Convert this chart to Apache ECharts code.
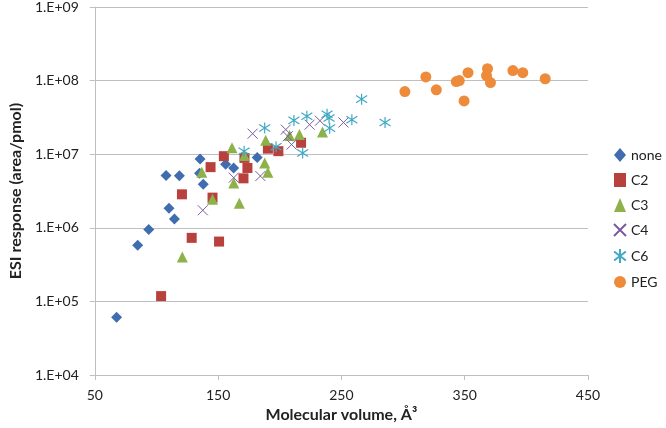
<!DOCTYPE html>
<html>
<head>
<meta charset="utf-8">
<script src="https://cdn.jsdelivr.net/npm/echarts@6/dist/echarts.min.js"></script>
<style>
html,body{margin:0;padding:0;background:#fff;}
#chart{width:666px;height:428px;}
</style>
</head>
<body>
<div id="chart"></div>
<script>
// Data (molecular volume, ESI response)
const seriesNames = ['none', 'C2', 'C3', 'C4', 'C6', 'PEG'];
const noneData = [[67.7,6.1e4],[84.8,5.8e5],[93.8,9.5e5],[110.2,1.84e6],[114.6,1.32e6],[107.8,5.15e6],[118.6,5.1e6],[135.4,8.6e6],[135.0,5.5e6],[138.0,3.9e6],[156.1,7.3e6],[162.6,6.5e6],[181.7,9.0e6]];
const c2Data = [[103.8,1.18e5],[120.7,2.85e6],[128.6,7.3e5],[143.9,6.67e6],[145.5,2.57e6],[150.8,6.5e5],[154.7,9.4e6],[173.8,6.5e6],[170.6,4.7e6],[171.4,8.9e6],[190.4,1.19e7],[198.9,1.1e7],[217.3,1.43e7]];
const c3Data = [[121.0,4.0e5],[136.8,5.7e6],[145.5,2.45e6],[167.2,2.16e6],[162.7,4.05e6],[161.3,1.22e7],[171.4,9.6e6],[188.6,1.55e7],[187.8,7.6e6],[190.4,5.7e6],[208.0,1.79e7],[216.0,1.85e7],[234.7,2.0e7]];
const c4Data = [[137.6,1.73e6],[162.7,4.8e6],[178.0,1.9e7],[184.3,5.05e6],[204.9,2.16e7],[206.5,1.75e7],[209.6,1.35e7],[224.2,2.52e7],[232.6,2.85e7],[251.7,2.7e7]];
const c6Data = [[171.1,1.1e7],[187.8,2.27e7],[197.0,1.26e7],[211.5,2.88e7],[218.6,1.04e7],[222.0,3.27e7],[238.4,3.5e7],[240.0,3.1e7],[240.5,2.26e7],[258.5,2.94e7],[266.4,5.6e7],[285.4,2.7e7]];
const pegData = [[301.5,7.1e7],[318.5,1.12e8],[327.0,7.5e7],[343.2,9.7e7],[345.6,1.0e8],[349.5,5.3e7],[352.7,1.28e8],[367.7,1.17e8],[368.5,1.45e8],[370.9,9.4e7],[389.1,1.37e8],[397.1,1.28e8],[415.3,1.06e8]];
const xTicks = [50, 150, 250, 350, 450];

const colors = ['#3F6DB0', '#B8413E', '#8DB24A', '#7A5C9E', '#3FA9C4', '#ED8B3A'];
const xPath = 'path://M0,0L10,10M10,0L0,10';
const starPath = 'path://M5,0L5,10M0.8,1.8L9.2,8.2M9.2,1.8L0.8,8.2';
const font = 'Lato, "Open Sans", sans-serif';

const chart = echarts.init(document.getElementById('chart'), null, {renderer: 'canvas'});
chart.setOption({
  animation: false,
  textStyle: {fontFamily: font},
  grid: {left: 82.7, right: 78, top: 5, bottom: 53, containLabel: false},
  legend: {
    orient: 'vertical', left: 608, top: 143, itemGap: 11, itemWidth: 12, itemHeight: 14,
    textStyle: {fontFamily: font, fontSize: 14, color: '#222'},
    data: seriesNames
  },
  xAxis: {
    type: 'value', min: xTicks[0], max: xTicks[xTicks.length-1], interval: 100,
    name: 'Molecular volume, Å³', nameLocation: 'middle', nameGap: 28,
    nameTextStyle: {fontFamily: font, fontSize: 16, fontWeight: 'bold', color: '#222'},
    axisLine: {lineStyle: {color: '#BFBFBF', width: 1}},
    axisTick: {show: true, inside: false, length: 5, lineStyle: {color: '#BFBFBF'}},
    axisLabel: {fontFamily: font, fontSize: 14, color: '#222', margin: 13},
    splitLine: {show: false}
  },
  yAxis: {
    type: 'log', logBase: 10, min: 1e4, max: 1e9,
    name: 'ESI response (area/pmol)', nameLocation: 'middle', nameGap: 63, nameRotate: 90,
    nameTextStyle: {fontFamily: font, fontSize: 16, fontWeight: 'bold', color: '#222'},
    axisLine: {show: true, lineStyle: {color: '#BFBFBF', width: 1}},
    axisTick: {show: true, inside: false, length: 5, lineStyle: {color: '#BFBFBF'}},
    axisLabel: {
      fontFamily: font, fontSize: 14, color: '#222', margin: 16,
      formatter: function (v) { const e = Math.round(Math.log10(v)); return '1.E+' + (e < 10 ? '0' : '') + e; }
    },
    splitLine: {show: true, lineStyle: {color: '#BFBFBF', width: 1}}
  },
  series: [
    {name: 'none', type: 'scatter', data: noneData, symbol: 'diamond', symbolSize: 11, itemStyle: {color: colors[0], opacity: 1}},
    {name: 'C2', type: 'scatter', data: c2Data, symbol: 'rect', symbolSize: 10, itemStyle: {color: colors[1], opacity: 1}},
    {name: 'C3', type: 'scatter', data: c3Data, symbol: 'triangle', symbolSize: 11, itemStyle: {color: colors[2], opacity: 1}},
    {name: 'C4', type: 'scatter', data: c4Data, symbol: xPath, symbolSize: 10, itemStyle: {color: 'rgba(0,0,0,0)', borderColor: colors[3], borderWidth: 1, opacity: 1}},
    {name: 'C6', type: 'scatter', data: c6Data, symbol: starPath, symbolSize: 11, itemStyle: {color: 'rgba(0,0,0,0)', borderColor: colors[4], borderWidth: 1.2, opacity: 1}},
    {name: 'PEG', type: 'scatter', data: pegData, symbol: 'circle', symbolSize: 11, itemStyle: {color: colors[5], opacity: 1}}
  ]
});
</script>
</body>
</html>
